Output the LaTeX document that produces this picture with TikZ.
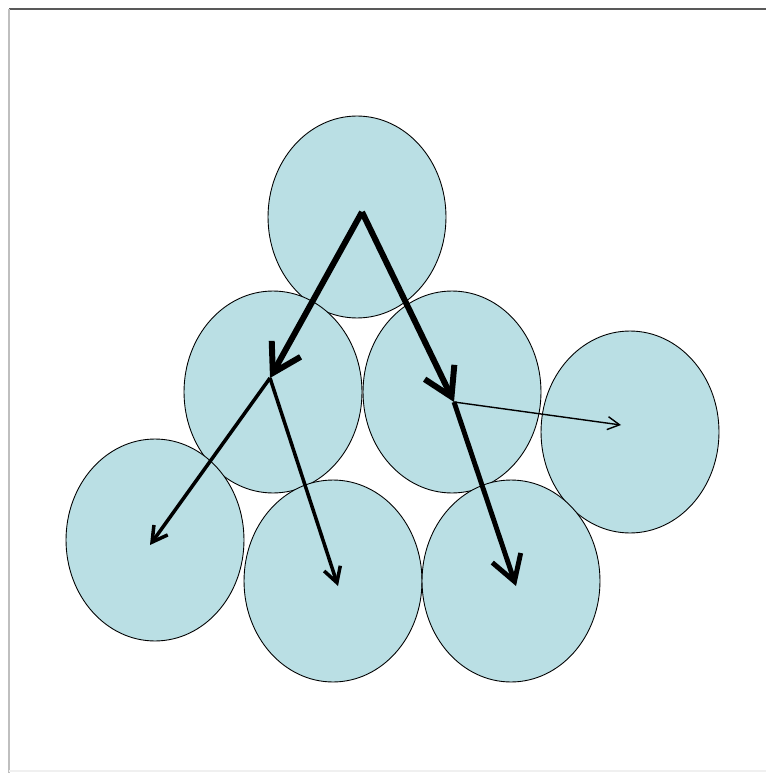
\documentclass[tikz,border=0pt]{standalone}
\usetikzlibrary{arrows.meta,shapes.geometric}
\definecolor{ballblue}{RGB}{186,223,228}
\begin{document}
\begin{tikzpicture}[x=0.02cm,y=-0.02cm]
    \tikzset{
        ball/.style={draw, ellipse, fill=ballblue, line width=0.5pt, minimum width=3.56cm, minimum height=4.04cm, inner sep=0pt},
        big/.style={line width=3.4pt, -{Straight Barb[length=0.55cm, width=0.66cm]}},
        mid/.style={line width=2pt, -{Straight Barb[length=0.3cm, width=0.34cm]}},
        fat/.style={line width=2.8pt, -{Straight Barb[length=0.5cm, width=0.6cm]}},
        thin/.style={line width=0.8pt, -{Straight Barb[length=0.24cm, width=0.26cm]}}
    }
    \useasboundingbox (0,0) rectangle (766,773);
    % frame
    \draw[gray!70!black, line width=1pt] (9,9) -- (766,9);
    \draw[gray!50, line width=0.6pt] (9,9) -- (9,773);
    \draw[gray!12, line width=0.6pt] (9,771) -- (766,771);

    % balls
    \draw node[ball] (top) at (357,217) {};
    \draw node[ball] (ml) at (273,392) {};
    \draw node[ball] (mr) at (452,392) {};
    \draw node[ball] (far) at (630,432) {};
    \draw node[ball] (bl) at (155,540) {};
    \draw node[ball] (bm) at (333,581) {};
    \draw node[ball] (br) at (511,581) {};

    % arrow points
    \coordinate (p0) at (362,212);
    \coordinate (p1) at (270,378);
    \coordinate (p2) at (454,402);
    \coordinate (q1) at (150,545);
    \coordinate (q2) at (338,586);
    \coordinate (q3) at (516,586);
    \coordinate (q4) at (621,425);

    \foreach \x/\y/\s in {%
        p0/p1/big, p0/p2/big, p1/q1/mid, p1/q2/mid, p2/q3/fat, p2/q4/thin%
    }{
        \draw[\s] (\x) -- (\y);
    }
\end{tikzpicture}
\end{document}
